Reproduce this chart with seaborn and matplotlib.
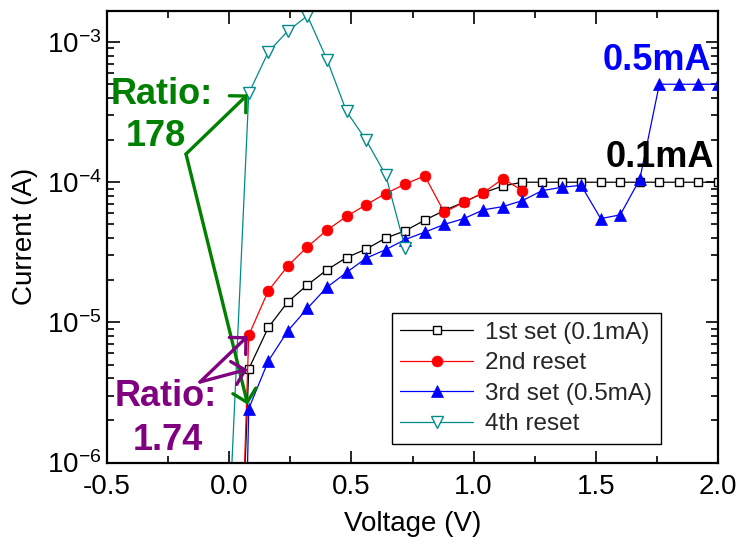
import numpy as np
import pandas as pd
import matplotlib
matplotlib.use("Agg")
import matplotlib.pyplot as plt
import seaborn as sns
from matplotlib.ticker import NullFormatter, LogFormatterMathtext, FixedLocator, MultipleLocator

# ---------------- data ----------------
voltage_set1 = [0.00, 0.08, 0.16, 0.24, 0.32, 0.40, 0.48, 0.56, 0.64, 0.72, 0.80, 0.88, 0.96,
                1.04, 1.12, 1.20, 1.28, 1.36, 1.44, 1.52, 1.60, 1.68, 1.76, 1.84, 1.92, 2.00]
current_set1 = [1e-9, 4.65e-6, 9.2e-6, 1.40e-5, 1.85e-5, 2.37e-5, 2.9e-5, 3.33e-5, 3.99e-5, 4.5e-5,
                5.36e-5, 6.28e-5, 7.2e-5, 8.4e-5, 9.4e-5, 1.0e-4, 1.0e-4, 1.0e-4, 1.0e-4, 1.0e-4,
                1.0e-4, 1.0e-4, 1.0e-4, 1.0e-4, 1.0e-4, 1.0e-4]

voltage_reset2 = [0.00, 0.08, 0.16, 0.24, 0.32, 0.40, 0.48, 0.56, 0.64, 0.72, 0.80, 0.88, 0.96,
                  1.04, 1.12, 1.20]
current_reset2 = [4e-10, 8.1e-6, 1.68e-5, 2.53e-5, 3.46e-5, 4.55e-5, 5.7e-5, 6.9e-5, 8.3e-5, 9.7e-5,
                  1.11e-4, 6.1e-5, 7.2e-5, 8.4e-5, 1.06e-4, 8.7e-5]

voltage_set3 = [0.00, 0.08, 0.16, 0.24, 0.32, 0.40, 0.48, 0.56, 0.64, 0.72, 0.80, 0.88, 0.96,
                1.04, 1.12, 1.20, 1.28, 1.36, 1.44, 1.52, 1.60, 1.68, 1.76, 1.84, 1.92, 2.00]
current_set3 = [1e-12, 2.42e-6, 5.3e-6, 8.7e-6, 1.26e-5, 1.78e-5, 2.27e-5, 2.87e-5, 3.3e-5, 3.9e-5,
                4.4e-5, 5.0e-5, 5.5e-5, 6.35e-5, 6.7e-5, 7.4e-5, 8.7e-5, 9.2e-5, 9.5e-5, 5.5e-5,
                5.85e-5, 1.05e-4, 5.0e-4, 5.0e-4, 5.0e-4, 5.0e-4]

voltage_reset4 = [0.00, 0.08, 0.16, 0.24, 0.32, 0.40, 0.48, 0.56, 0.64, 0.72]
current_reset4 = [3.7e-7, 4.3e-4, 8.5e-4, 1.2e-3, 1.54e-3, 7.5e-4, 3.2e-4, 2.0e-4, 1.13e-4, 3.4e-5]

series_labels = ["1st set (0.1mA)", "2nd reset", "3rd set (0.5mA)", "4th reset"]
x_ticks = [-0.5, 0.0, 0.5, 1.0, 1.5, 2.0]
x_tick_labels = ["-0.5", "0.0", "0.5", "1.0", "1.5", "2.0"]
y_ticks = [1e-6, 1e-5, 1e-4, 1e-3]

# ---------------- style ----------------
sns.set_theme(style="white")
plt.rcParams["font.family"] = ["Liberation Sans", "DejaVu Sans"]
plt.rcParams["mathtext.default"] = "regular"

W, H = 739, 549
fig = plt.figure(figsize=(W / 100, H / 100), dpi=100)
L, R, T, B = 107, 718, 10.5, 462.5
ax = fig.add_axes([L / W, 1 - B / H, (R - L) / W, (B - T) / H])


def px(x, y):
    """pixel position of the reference -> axes fraction"""
    return ((x - L) / (R - L), (B - y) / (B - T))


styles = [
    dict(color="black", marker="s", markersize=6.0, markerfacecolor="white",
         markeredgecolor="black", markeredgewidth=1.0),
    dict(color="#ff0000", marker="o", markersize=7.8, markerfacecolor="#ff0000",
         markeredgecolor="#ff0000", markeredgewidth=0.5),
    dict(color="#0000ff", marker="^", markersize=8.8, markerfacecolor="#0000ff",
         markeredgecolor="#0000ff", markeredgewidth=0.5),
    dict(color="#008b8b", marker="v", markersize=8.5, markerfacecolor="white",
         markeredgecolor="#008b8b", markeredgewidth=1.0),
]
datasets = [(voltage_set1, current_set1), (voltage_reset2, current_reset2),
            (voltage_set3, current_set3), (voltage_reset4, current_reset4)]

for (v, i), lab, st in zip(datasets, series_labels, styles):
    df = pd.DataFrame({"Voltage": v, "Current": i})
    sns.lineplot(data=df, x="Voltage", y="Current", ax=ax, sort=False, estimator=None,
                 label=lab, linewidth=0.9, **st)

ax.set_yscale("log")
ax.set_xlim(-0.5, 2.0)
ax.set_ylim(1e-6, 1.68e-3)
ax.set_xticks(x_ticks)
ax.set_xticklabels(x_tick_labels)
ax.xaxis.set_minor_locator(MultipleLocator(0.25))
ax.yaxis.set_major_locator(FixedLocator(y_ticks))
ax.yaxis.set_major_formatter(LogFormatterMathtext())
minor_y = [m * 10.0 ** e for e in range(-6, -2) for m in range(2, 10)]
ax.yaxis.set_minor_locator(FixedLocator(minor_y))
ax.yaxis.set_minor_formatter(NullFormatter())

ax.tick_params(which="both", direction="in", left=True, bottom=True, top=True, right=True,
               colors="black", labelsize=20, width=1.2)
ax.tick_params(which="major", length=9)
ax.tick_params(which="minor", length=5)
ax.tick_params(axis="x", which="major", pad=8)
ax.tick_params(axis="y", which="major", pad=4)
for s in ax.spines.values():
    s.set_color("black")
    s.set_linewidth(1.6)

ax.set_xlabel("Voltage (V)", fontsize=20, color="black", labelpad=8)
ax.set_ylabel("Current (A)", fontsize=20, color="black", labelpad=6)

leg = ax.legend(loc="lower left", bbox_to_anchor=px(391.7, 444), fontsize=17.5,
                frameon=True, fancybox=False, edgecolor="black", framealpha=1,
                handlelength=3.0, handletextpad=0.5, borderpad=0.35, labelspacing=0.35,
                borderaxespad=0)
leg.get_frame().set_linewidth(1.0)

# ---------------- annotations ----------------
green = "#008000"
purple = "#800080"
astyle = "->,head_length=0.5,head_width=0.5"

kink_g = px(186, 154)
ax.annotate("", xy=(voltage_reset4[1], current_reset4[1]), xycoords="data",
            xytext=kink_g, textcoords="axes fraction",
            arrowprops=dict(arrowstyle=astyle, color=green, lw=2.4, mutation_scale=17,
                            shrinkA=0, shrinkB=1))
ax.annotate("", xy=(voltage_set3[1], current_set3[1]), xycoords="data",
            xytext=kink_g, textcoords="axes fraction",
            arrowprops=dict(arrowstyle=astyle, color=green, lw=2.4, mutation_scale=17,
                            shrinkA=0, shrinkB=3))

kink_p = px(200, 382)
ax.annotate("", xy=(voltage_reset2[1], current_reset2[1]), xycoords="data",
            xytext=kink_p, textcoords="axes fraction",
            arrowprops=dict(arrowstyle=astyle, color=purple, lw=2.4, mutation_scale=17,
                            shrinkA=0, shrinkB=1))
ax.annotate("", xy=(voltage_set1[1], current_set1[1]), xycoords="data",
            xytext=kink_p, textcoords="axes fraction",
            arrowprops=dict(arrowstyle=astyle, color=purple, lw=2.4, mutation_scale=17,
                            shrinkA=0, shrinkB=1))

tk = dict(transform=ax.transAxes, ha="center", va="center", fontweight="bold", fontsize=26,
          clip_on=False)
ax.text(*px(162, 95), "Ratio:", color=green, **tk)
ax.text(*px(156, 137), "178", color=green, **tk)
ax.text(*px(166, 397), "Ratio:", color=purple, **tk)
ax.text(*px(168, 440), "1.74", color=purple, **tk)
ax.text(*px(656.7, 60.7), "0.5mA", color="#0000ff", **tk)
ax.text(*px(660, 157.5), "0.1mA", color="black", **tk)

fig.savefig("out.png", dpi=100)
